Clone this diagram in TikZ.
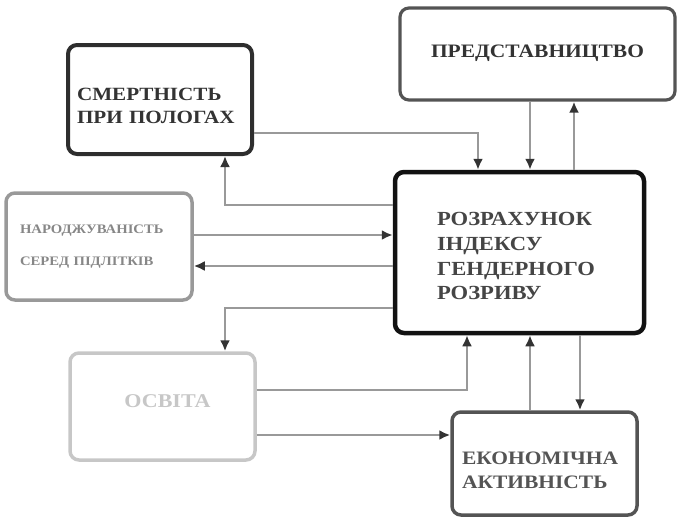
\documentclass[tikz,border=0pt]{standalone}
\usepackage{fontspec}
\setmainfont{Liberation Serif}[FakeStretch=1.13]
\usetikzlibrary{arrows.meta}
\definecolor{linegray}{HTML}{999999}
\definecolor{tipgray}{HTML}{333333}

\begin{document}
\begin{tikzpicture}[x=1pt, y=-1pt,
	box/.style = {rectangle, rounded corners=9pt, inner ysep=0pt},
	conn/.style = {draw=linegray, line width=2.6pt, -{Latex[length=11pt, width=10pt, color=tipgray]}}]
	\useasboundingbox (0,0) rectangle (678,517);

	\node [box, draw=black!82, line width=4pt, minimum width=184pt, minimum height=109pt,
		inner xsep=9pt, text width=166pt, align=left, text=black!80,
		font=\fontsize{18.7}{23}\selectfont\bfseries] (smert) at (160,99.5)
		{\rule{0pt}{25pt}СМЕРТНІСТЬ\\ПРИ ПОЛОГАХ};
	\node [box, draw=black!67, line width=3.2pt, minimum width=275pt, minimum height=92pt,
		align=center, text=black!80, font=\fontsize{19}{22}\selectfont\bfseries] (pred) at (537.5,54)
		{ПРЕДСТАВНИЦТВО\rule[-6pt]{0pt}{6pt}};
	\node [box, draw=black!93, line width=4.5pt, minimum width=249pt, minimum height=161pt,
		inner xsep=42pt, text width=165pt, align=left, text=black!73,
		font=\fontsize{20}{24.7}\selectfont\bfseries] (rozr) at (519.5,252.5)
		{\rule{0pt}{21pt}РОЗРАХУНОК\\ІНДЕКСУ\\ГЕНДЕРНОГО\\РОЗРИВУ};
	\node [box, draw=black!40, line width=3.5pt, minimum width=186pt, minimum height=107pt,
		inner xsep=14pt, text width=158pt, align=left, text=black!47,
		font=\fontsize{13}{32}\selectfont\bfseries] (narod) at (99,246.5)
		{НАРОДЖУВАНІСТЬ\\СЕРЕД ПІДЛІТКІВ};
	\node [box, draw=black!22, line width=3.5pt, minimum width=185pt, minimum height=107pt,
		align=center, text=black!22, font=\fontsize{19.5}{23}\selectfont\bfseries] (osvita) at (162.5,406.5)
		{\hspace*{10pt}ОСВІТА\rule[-10pt]{0pt}{10pt}};
	\node [box, draw=black!67, line width=3.5pt, minimum width=185pt, minimum height=103pt,
		inner xsep=10pt, text width=165pt, align=left, text=black!67,
		font=\fontsize{19}{24}\selectfont\bfseries] (ekon) at (544.5,463.5)
		{\rule{0pt}{27pt}ЕКОНОМІЧНА\\АКТИВНІСТЬ};

	\draw [conn] ([yshift=-33.5pt]smert.east) -| ([xshift=-41.5pt]rozr.north);
	\draw [conn] ([xshift=-7.5pt]pred.south) -- ([xshift=10.5pt]rozr.north);
	\draw [conn] ([xshift=54.5pt]rozr.north) -- ([xshift=36.5pt]pred.south);
	\draw [conn] ([yshift=47.5pt]rozr.west) -| ([xshift=65pt]smert.south);
	\draw [conn] ([yshift=11.5pt]narod.east) -- ([yshift=11.5pt]narod.east -| rozr.west);
	\draw [conn] ([yshift=-19.5pt]narod.east -| rozr.west) -- ([yshift=-19.5pt]narod.east);
	\draw [conn] ([yshift=-55.5pt]rozr.west) -| ([xshift=62.5pt]osvita.north);
	\draw [conn] ([yshift=16.5pt]osvita.east) -| ([xshift=-52.5pt]rozr.south);
	\draw [conn] ([yshift=-28.5pt]osvita.east) -- ([yshift=-28.5pt]osvita.east -| ekon.west);
	\draw [conn] ([xshift=-14.5pt]ekon.north) -- ([xshift=-14.5pt]ekon.north |- rozr.south);
	\draw [conn] ([xshift=60.5pt]rozr.south) -- ([xshift=60.5pt]rozr.south |- ekon.north);
\end{tikzpicture}
\end{document}
